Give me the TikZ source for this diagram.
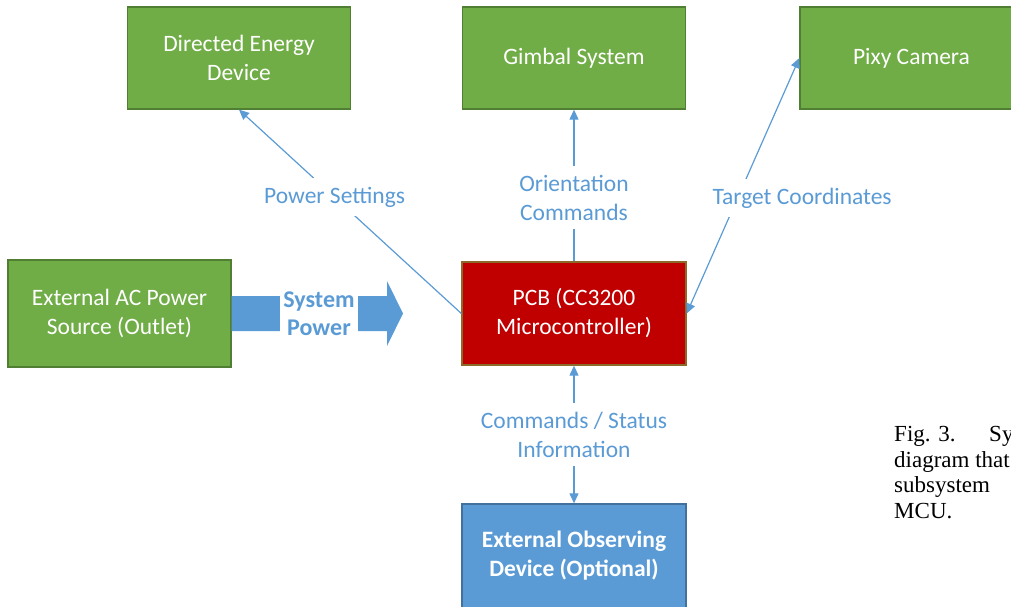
\documentclass[tikz,border=0pt]{standalone}
\usepackage{fontspec}
\setmainfont{Carlito}
\newfontfamily\capfont{Liberation Serif}
\usetikzlibrary{arrows.meta,calc}
\definecolor{grn}{HTML}{70AD47}
\definecolor{grnb}{HTML}{507E32}
\definecolor{pcbred}{HTML}{C00000}
\definecolor{pcbb}{HTML}{8C6A2A}
\definecolor{obsblue}{HTML}{5B9BD5}
\definecolor{obsb}{HTML}{41719C}
\definecolor{lnk}{HTML}{5B9BD5}
\begin{document}
\begin{tikzpicture}[x=1pt,y=-1pt,
  box/.style={draw, line width=1.3pt, minimum width=223pt, minimum height=102pt,
    inner sep=0pt, align=center, text=white, font=\fontsize{23.5}{29}\selectfont},
  gbox/.style={box, fill=grn, draw=grnb},
  conn/.style={draw=lnk, line width=1.2pt, -{Triangle[length=10pt,width=9pt]}},
  conntwo/.style={draw=lnk, line width=1.2pt, {Triangle[length=10pt,width=9pt]}-{Triangle[length=10pt,width=9pt]}},
  lbl/.style={fill=white, text=lnk, align=center, inner xsep=3pt, inner ysep=9pt,
    font=\fontsize{23.5}{29}\selectfont},
  captext/.style={anchor=base west, inner sep=0pt, font=\capfont\fontsize{23}{26}\selectfont}]
\useasboundingbox (0,0) rectangle (1011,606);
\clip (0,0) rectangle (1011,606);

% boxes
\node[gbox] (ded) at (239,58) {Directed Energy\\Device};
\node[gbox] (gim) at (574,58) {Gimbal System};
\node[gbox] (pixy) at (911.5,58) {Pixy Camera};
\node[gbox, minimum height=107pt] (src) at (119.5,313.5) {External AC Power\\Source (Outlet)};
\node[box, fill=pcbred, draw=pcbb, minimum width=224pt, minimum height=103pt] (pcb) at (574,313.5) {PCB (CC3200\\Microcontroller)};
\node[box, fill=obsblue, draw=obsb, minimum width=224pt, minimum height=104pt,
  font=\bfseries\fontsize{23.5}{29}\selectfont] (obs) at (574,556) {External Observing\\Device (Optional)};

% big power arrow
\coordinate (ptip) at (403,313.5);
\fill[lnk] ($(src.east)+(0,-17.5)$) -- ($(ptip)+(-16,-17.5)$) -- ($(ptip)+(-16,-32.5)$)
  -- (ptip) -- ($(ptip)+(-16,32.5)$) -- ($(ptip)+(-16,17.5)$) -- ($(src.east)+(0,17.5)$) -- cycle;
\node[lbl, inner ysep=2pt, font=\bfseries\fontsize{24}{28}\selectfont] (sp) at (319,314) {System\\Power};

% connectors
\draw[conn] (pcb.west) -- node[lbl, pos=0.57] (lps) {Power Settings} (ded.south);
\draw[conn] (pcb.north) -- node[lbl, pos=0.42] (lor) {Orientation\\Commands} (gim.south);
\draw[conntwo] (pcb.east) -- node[lbl, pos=0.452, xshift=64.5pt] (ltc) {Target Coordinates} (pixy.west);
\draw[conntwo] (pcb.south) -- node[lbl, pos=0.5] (lcs) {Commands / Status\\Information} (obs.north);

% caption
\node[captext] (c1) at (894,441) {Fig. 3.};
\node[captext] (c1b) at (989,441) {Sy};
\node[captext] (c2) at (894,467) {diagram that};
\node[captext] (c3) at (894,492) {subsystem};
\node[captext] (c4) at (894,518) {MCU.};
\end{tikzpicture}
\end{document}
